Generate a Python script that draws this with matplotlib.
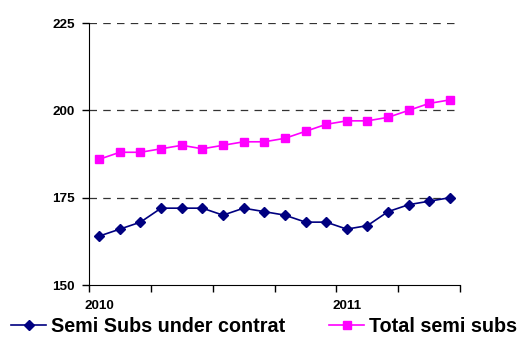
import matplotlib.pyplot as plt
import numpy as np
from matplotlib.ticker import FixedLocator, NullFormatter

plt.rcParams["font.family"] = ["Liberation Sans", "DejaVu Sans"]
plt.rcParams["font.weight"] = "bold"

# monthly fleet counts, Jan 2010 - Jun 2011
under_contract = [164, 166, 168, 172, 172, 172, 170, 172, 171, 170,
                  168, 168, 166, 167, 171, 173, 174, 175]
total_semi_subs = [186, 188, 188, 189, 190, 189, 190, 191, 191, 192,
                   194, 196, 197, 197, 198, 200, 202, 203]
year_labels = {0: "2010", 12: "2011"}

x = np.arange(len(total_semi_subs))

fig = plt.figure(figsize=(5.23, 3.44), dpi=100)
ax = fig.add_axes([0.170, 0.1715, 0.710, 0.7615])

ax.plot(x, under_contract, color="#000080", marker="D", markersize=5.5,
        linewidth=1.2, label="Semi Subs under contrat")
ax.plot(x, total_semi_subs, color="#FF00FF", marker="s", markersize=5.5,
        linewidth=1.2, label="Total semi subs")

ax.set_xlim(-0.5, len(x) - 0.5)
ax.set_ylim(150, 225)
ax.set_yticks([150, 175, 200, 225])
for level in [175, 200, 225]:
    ax.axhline(level, color="#333333", linestyle=(0, (6, 5)), linewidth=0.9,
               zorder=0)

# category boundaries every quarter, year labels under January
ax.xaxis.set_major_locator(FixedLocator(np.arange(-0.5, len(x), 3)))
ax.xaxis.set_major_formatter(NullFormatter())
ax.set_xticks(list(year_labels.keys()), list(year_labels.values()), minor=True)
ax.tick_params(axis="x", which="major", direction="out", length=5, width=1)
ax.tick_params(axis="x", which="minor", length=0, pad=11, labelsize=9.7)
ax.tick_params(axis="y", direction="out", length=5, width=1, pad=5,
               labelsize=9.7)

for side in ["top", "right"]:
    ax.spines[side].set_visible(False)

fig.legend(loc="center", bbox_to_anchor=(0.505, 0.052), ncol=2, frameon=False,
           fontsize=14.2, handlelength=1.8, handletextpad=0.25,
           columnspacing=2.2)

fig.savefig("out.png", dpi=100)
